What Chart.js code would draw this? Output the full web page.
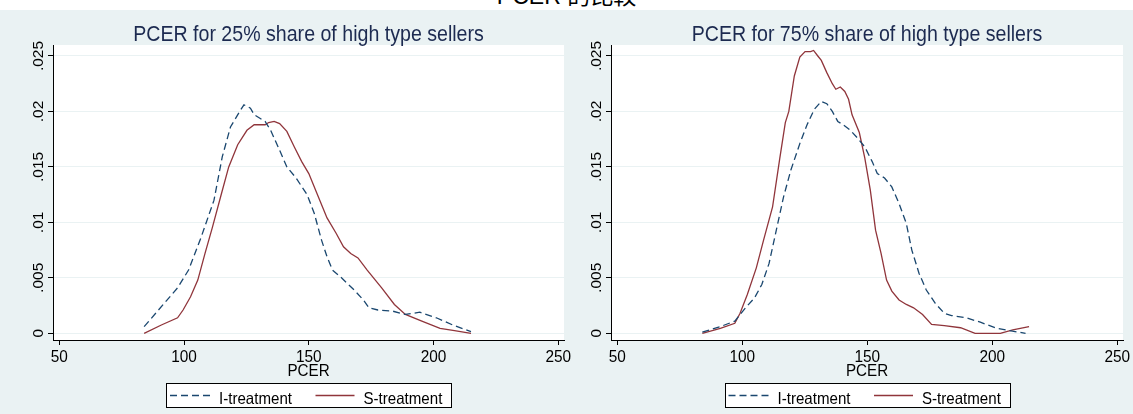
<!DOCTYPE html>
<html><head><meta charset="utf-8">
<script src="https://cdn.jsdelivr.net/npm/chart.js@4.4.0/dist/chart.umd.min.js"></script>
<style>
html,body{margin:0;padding:0;background:#fff;}
#wrap{position:relative;width:1133px;height:414px;background:#EAF2F3;overflow:hidden;}
#band{position:absolute;left:0;top:0;width:1133px;height:10px;background:#fff;}
#sup{position:absolute;left:0;width:1133px;text-align:center;top:-15px;font-size:23px;line-height:23px;font-family:"Liberation Sans","Noto Sans CJK TC",sans-serif;color:#000;white-space:nowrap;}
canvas{position:absolute;top:0;}
</style></head>
<body>
<div id="wrap">
  <div id="band"></div>
  <div id="sup">PCER 的比較</div>
  <canvas id="left" width="590" height="414" style="left:0px;width:590px;height:414px"></canvas>
  <canvas id="right" width="567" height="414" style="left:566px;width:567px;height:414px"></canvas>
</div>
<script>
// ---- data ----
const xTicks = [50, 100, 150, 200, 250];
const xTickLabels = ["50", "100", "150", "200", "250"];
const yTicks = [0, 0.005, 0.01, 0.015, 0.02, 0.025];
const yTickLabels = ["0", ".005", ".01", ".015", ".02", ".025"];
const xTitle = "PCER";
const seriesNames = ["I-treatment", "S-treatment"];
const titleLeft = "PCER for 25% share of high type sellers";
const titleRight = "PCER for 75% share of high type sellers";

const pcerI25 = [84, 97.4, 101.8, 106.9, 112, 115.3, 118.6, 122.3, 124, 126.6, 128.1, 132.5, 134.7, 138.3, 141.2, 144.9, 149.3, 152.2, 155.1, 157.3, 159.5, 163.1, 168.2, 171.9, 174.1, 177.7, 183.6, 188.7, 194.5, 201.1, 207.7, 215];
const densI25 = [.0006, .0041, .0057, .0087, .012, .0159, .0186, .020, .0206, .0203, .0197, .0191, .0183, .0165, .015, .014, .0125, .0108, .0084, .0069, .0057, .005, .0039, .003, .0023, .0021, .002, .0017, .0019, .0014, .00075, .00015];
const pcerS25 = [84, 90.9, 97.4, 99.6, 102.6, 105.5, 108.4, 111.3, 115, 117.9, 121.5, 125.2, 128.1, 132.5, 133.9, 136.1, 138.3, 141.2, 144.2, 147.1, 150, 152.9, 157.3, 161, 163.9, 166.8, 169.7, 173.4, 179.2, 184.3, 188.7, 195.3, 202.6, 208.4, 215];
const densS25 = [0, .00075, .0014, .0021, .0033, .0048, .0072, .0095, .0126, .015, .017, .0183, .0188, .0188, .019, .0191, .0189, .0182, .0168, .0155, .0144, .0128, .0104, .009, .0078, .0072, .0068, .0057, .0041, .0026, .0017, .0011, .00045, .00024, 0];

const pcerI75 = [84, 91.2, 97, 101.3, 104.9, 107.8, 110.7, 113.6, 116.5, 119.4, 123, 125.9, 128.8, 131.6, 133.8, 136, 138.2, 140.3, 143.2, 146.1, 149, 151.9, 154, 156.9, 159.8, 162.7, 165.6, 167.8, 170.7, 173.6, 177.2, 180.8, 183.7, 189.5, 195.2, 201.7, 206.8, 213.3];
const densI75 = [.0001, .0006, .0011, .0023, .0032, .0044, .0063, .0093, .0123, .0147, .0171, .0188, .0202, .0209, .0207, .02, .0191, .0188, .0183, .0176, .0168, .0155, .0144, .014, .0132, .0117, .0099, .0075, .0054, .0039, .0027, .0018, .0016, .0014, .001, .00045, .00024, 0];
const pcerS75 = [84, 91.2, 97, 99.1, 102, 105.6, 108.5, 112.1, 115, 117.2, 118.6, 120.8, 123, 125.1, 127.3, 128.5, 130.2, 131.6, 133.8, 136, 137.4, 139.2, 141, 142.5, 143.9, 146.8, 149, 151.2, 153.3, 155.5, 157.7, 159.8, 162.7, 165.6, 168.5, 172.1, 175.7, 180.8, 187.3, 193.1, 203.2, 208.2, 214.7];
const densS75 = [0, .00045, .0009, .0018, .0035, .0059, .0084, .0114, .0158, .019, .02, .0232, .0249, .0254, .0254, .0255, .025, .0246, .0235, .0225, .022, .0222, .0218, .0211, .0197, .0181, .0158, .0129, .0093, .0072, .0048, .0038, .003, .0026, .0023, .0017, .0008, .0007, .0005, 0, 0, .0003, .0006];

// ---- style ----
const NAVY = '#1a476f';
const MAROON = '#90353b';
const GRID = '#EAF2F3';
const TITLE_COLOR = '#1c2a50';
const FONT = '"Liberation Sans", Arial, sans-serif';
const X_MIN = 47.47, X_MAX = 252.28;
const Y_MIN = -0.000604, Y_MAX = 0.02599;

// text drawn with a slight vertical stretch, anchored at the baseline
function stretchText(c, str, x, y, size, sy, align) {
  c.save();
  c.translate(x, y);
  c.scale(1, sy);
  c.font = size + 'px ' + FONT;
  c.textAlign = align;
  c.textBaseline = 'alphabetic';
  c.fillText(str, 0, 0);
  c.restore();
}

function panelPlugin(title) {
  return {
    id: 'panelText',
    beforeDraw(chart) {
      const a = chart.chartArea, c = chart.ctx;
      c.save();
      c.fillStyle = '#fff';
      c.fillRect(a.left, a.top, a.right - a.left, a.bottom - a.top);
      c.restore();
    },
    afterDraw(chart) {
      const c = chart.ctx, a = chart.chartArea, xs = chart.scales.x, ys = chart.scales.y;
      const cx = (a.left + a.right) / 2;
      c.save();
      c.fillStyle = TITLE_COLOR;
      stretchText(c, title, cx, 40.5, 19.6, 1.1, 'center');
      c.fillStyle = '#000';
      xTicks.forEach((v, i) => stretchText(c, xTickLabels[i], xs.getPixelForValue(v), 362, 15.4, 1.08, 'center'));
      stretchText(c, xTitle, cx, 375.5, 15.2, 1.14, 'center');
      c.font = '15.5px ' + FONT;
      yTicks.forEach((v, i) => {
        c.save();
        c.translate(a.left - 10, ys.getPixelForValue(v));
        c.rotate(-Math.PI / 2);
        c.textAlign = 'center';
        c.textBaseline = 'alphabetic';
        c.fillText(yTickLabels[i], 0, 0);
        c.restore();
      });
      // legend
      const bx = Math.round(cx - 142.5) + 0.5, by = 383.5;
      c.fillStyle = '#fff';
      c.fillRect(bx, by, 285, 24);
      c.strokeStyle = '#000';
      c.lineWidth = 1;
      c.strokeRect(bx, by, 285, 24);
      c.lineWidth = 1.3;
      c.strokeStyle = NAVY;
      c.setLineDash([7, 4]);
      c.beginPath(); c.moveTo(cx - 138.5, 395.5); c.lineTo(cx - 97.5, 395.5); c.stroke();
      c.setLineDash([]);
      c.strokeStyle = MAROON;
      c.beginPath(); c.moveTo(cx + 7, 395.5); c.lineTo(cx + 46, 395.5); c.stroke();
      c.fillStyle = '#000';
      stretchText(c, seriesNames[0], cx - 89.5, 404.3, 15.1, 1.12, 'left');
      stretchText(c, seriesNames[1], cx + 55, 404.3, 15.1, 1.12, 'left');
      c.restore();
    }
  };
}

function makePanel(id, title, xI, yI, xS, yS, yAxisWidth, padRight) {
  const pts = (xs, ys) => xs.map((x, i) => ({ x: x, y: ys[i] }));
  return new Chart(document.getElementById(id), {
    type: 'line',
    data: {
      datasets: [
        { label: seriesNames[0], data: pts(xI, yI), borderColor: NAVY, borderWidth: 1.3, borderDash: [7, 4], pointRadius: 0, tension: 0, fill: false },
        { label: seriesNames[1], data: pts(xS, yS), borderColor: MAROON, borderWidth: 1.3, pointRadius: 0, tension: 0, fill: false }
      ]
    },
    options: {
      responsive: false, animation: false, devicePixelRatio: 1,
      layout: { padding: { left: 0, right: padRight, top: 45, bottom: 0 } },
      plugins: { legend: { display: false }, tooltip: { enabled: false }, title: { display: false } },
      scales: {
        x: {
          type: 'linear', min: X_MIN, max: X_MAX,
          afterBuildTicks: s => { s.ticks = xTicks.map(v => ({ value: v })); },
          afterFit: s => { s.height = 74; },
          ticks: { display: false },
          grid: { drawOnChartArea: false, drawTicks: true, tickLength: 5, color: '#000', tickColor: '#000' },
          border: { display: true, color: '#000', width: 1 }
        },
        y: {
          type: 'linear', min: Y_MIN, max: Y_MAX,
          afterBuildTicks: s => { s.ticks = yTicks.map(v => ({ value: v })); },
          afterFit: s => { s.width = yAxisWidth; },
          ticks: { display: false },
          grid: { color: GRID, lineWidth: 1, drawTicks: true, tickLength: 5, tickColor: '#000' },
          border: { display: true, color: '#000', width: 1 }
        }
      }
    },
    plugins: [panelPlugin(title)]
  });
}

makePanel('left', titleLeft, pcerI25, densI25, pcerS25, densS25, 53, 26);
makePanel('right', titleRight, pcerI75, densI75, pcerS75, densS75, 45, 10);
</script>
</body></html>
